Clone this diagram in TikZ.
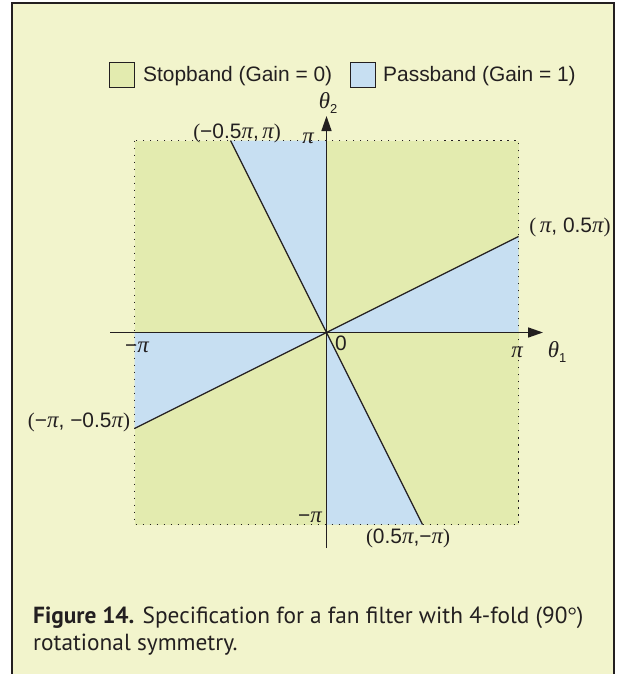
\documentclass[tikz,border=0pt]{standalone}
\usepackage{fontspec}
\setmainfont{Liberation Sans}
\newfontfamily\capfont{PT Sans}
\newfontfamily\lserif{Liberation Serif}
\usetikzlibrary{arrows.meta}
\definecolor{bgyellow}{RGB}{242,244,204}
\definecolor{stopgreen}{RGB}{227,235,175}
\definecolor{passblue}{RGB}{199,223,242}
\definecolor{inkdark}{RGB}{35,31,32}
\newcommand\mypi{{\lserif\itshape\fontsize{23}{24}\selectfont π}}
\newcommand\mylp{{\lserif(}}
\newcommand\myrp{{\lserif)}}
\newcommand\mytheta[1]{{\lserif\itshape\fontsize{23}{24}\selectfont θ}\raisebox{-0.4ex}{\fontsize{13}{13}\selectfont #1}}
\tikzset{
  legbox/.style={draw=inkdark, line width=1bp, minimum width=25bp, minimum height=25bp, inner sep=0pt},
  legtext/.style={anchor=west, inner sep=0pt, font=\fontsize{21}{24}\selectfont, text=inkdark},
  mlabel/.style={inner sep=0pt, font=\fontsize{21}{22}\selectfont, text=inkdark},
  axisline/.style={draw=inkdark, line width=1.5bp, -{Triangle[length=15bp,width=10bp]}},
  bandline/.style={draw=inkdark, line width=1.3bp},
  dotborder/.style={draw=inkdark, line width=1.9bp, dash pattern=on 1.9bp off 5.1bp}
}
\begin{document}
\begin{tikzpicture}[x=1bp,y=-1bp]
\useasboundingbox (0,0) rectangle (624,674);
\clip (0,0) rectangle (624,674);
\fill[white] (0,0) rectangle (624,674);
\draw[fill=bgyellow, draw=inkdark, line width=1.2bp] (12,3) rectangle (614,700);
% square
\coordinate (O) at (326.5,332.5);
\coordinate (TL) at (134.5,140.5);
\coordinate (BR) at (518.5,524.5);
\coordinate (A) at (230.5,140.5);
\coordinate (B) at (422.5,524.5);
\coordinate (C) at (518.5,236.5);
\coordinate (D) at (134.5,428.5);
\fill[stopgreen] (TL) rectangle (BR);
\fill[passblue] (A) -- (326.5,140.5) -- (O) -- cycle;
\fill[passblue] (518.5,332.5) -- (C) -- (O) -- cycle;
\fill[passblue] (326.5,524.5) -- (B) -- (O) -- cycle;
\fill[passblue] (134.5,332.5) -- (D) -- (O) -- cycle;
\draw[dotborder] (TL) rectangle (BR);
\draw[bandline] (A) -- (B);
\draw[bandline] (D) -- (C);
% axes
\coordinate (xs) at (110,332.5);
\coordinate (xe) at (543,332.5);
\coordinate (ys) at (326.5,548);
\coordinate (ye) at (326.5,116);
\draw[axisline] (xs) -- (xe);
\draw[axisline] (ys) -- (ye);
% legend
\node[legbox, fill=stopgreen] (lg1) at (122,75.5) {};
\node[legtext] (lt1) at (143,76) {Stopband (Gain = 0)};
\node[legbox, fill=passblue] (lg2) at (363,75) {};
\node[legtext] (lt2) at (383,76) {Passband (Gain = 1)};
% labels
\node[mlabel] (th2) at (328,103) {\mytheta{2}};
\node[mlabel] (th1) at (557,352) {\mytheta{1}};
\node[mlabel] (lA) at (237,133) {\mylp−0.5\mypi,\,\mypi\myrp};
\node[mlabel] (ltop) at (308,138) {\mypi};
\node[mlabel] (lC) at (570,227) {\mylp\,\mypi, 0.5\mypi\myrp};
\node[mlabel] (lleft) at (137,347) {−\mypi};
\node[mlabel] (lzero) at (341,343) {0};
\node[mlabel] (lright) at (517,352) {\mypi};
\node[mlabel] (lD) at (79,422) {\mylp−\mypi, −0.5\mypi\myrp};
\node[mlabel] (lbot) at (310,517) {−\mypi};
\node[mlabel] (lB) at (408,538) {\mylp0.5\mypi,−\mypi\myrp};
% caption
\node[anchor=west, inner sep=0pt, font=\capfont\fontsize{23.4}{27}\selectfont, text=inkdark] (cap1) at (33,618) {\textbf{Figure 14.} Specification for a fan filter with 4-fold (90{\lserif°})};
\node[anchor=west, inner sep=0pt, font=\capfont\fontsize{23.4}{27}\selectfont, text=inkdark] (cap2) at (33,645) {rotational symmetry.};
\end{tikzpicture}
\end{document}
